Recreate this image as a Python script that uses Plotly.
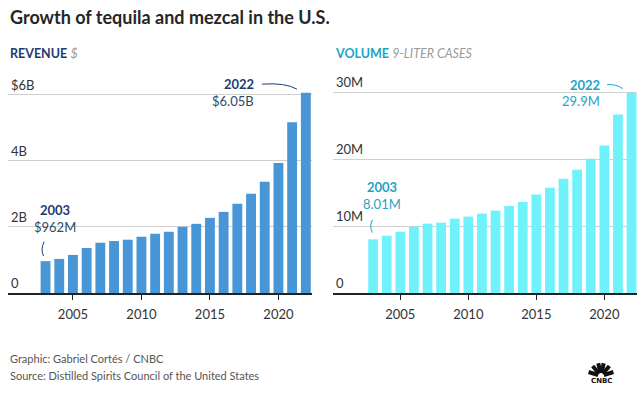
import math
import plotly.graph_objects as go
from plotly.subplots import make_subplots

years = list(range(2003, 2023))
revenue_b = [0.962, 1.03, 1.15, 1.36, 1.52, 1.57, 1.61, 1.70, 1.79, 1.85,
             2.00, 2.09, 2.27, 2.45, 2.70, 3.00, 3.36, 3.93, 5.16, 6.05]
volume_m = [8.01, 8.55, 9.15, 9.9, 10.35, 10.5, 11.1, 11.4, 11.85, 12.3,
            13.0, 13.6, 14.7, 15.7, 17.05, 18.4, 20.05, 22.0, 26.65, 29.9]
year_ticks = [2005, 2010, 2015, 2020]
rev_ticks = [0, 2, 4, 6]
rev_ticktext = ["0", "2B", "4B", "$6B"]
vol_ticks = [0, 10, 20, 30]
vol_ticktext = ["0", "10M", "20M", "30M"]

FONT = "Lato"
REV_C = "#4896d6"
VOL_C = "#70f2fc"
NAVY = "#1d3c6e"
TEAL = "#1ba4c6"

W, H = 640, 398
ML, MR, MT, MB = 8, 3, 66, 105
PW, PH = W - ML - MR, H - MT - MB


def px(x):
    return (x - ML) / PW


def py(y):
    return (H - MB - y) / PH


fig = make_subplots(rows=1, cols=2, horizontal_spacing=0.0)
fig.add_trace(go.Bar(x=years, y=revenue_b, marker_color=REV_C, marker_line_width=0,
                     width=0.72), row=1, col=1)
fig.add_trace(go.Bar(x=years, y=volume_m, marker_color=VOL_C, marker_line_width=0,
                     width=0.72), row=1, col=2)

fig.update_layout(
    width=W, height=H, margin=dict(l=ML, r=MR, t=MT, b=MB),
    paper_bgcolor="white", plot_bgcolor="white", showlegend=False,
    font=dict(family=FONT, color="#333333", size=13),
    xaxis=dict(domain=[0, px(312)], range=[2000.26, 2022.45]),
    xaxis2=dict(domain=[px(333), 1], range=[2000.05, 2022.4]),
    yaxis=dict(range=[0, PH / 33.1]),
    yaxis2=dict(range=[0, PH / 6.7]),
)
for ax in ["xaxis", "xaxis2"]:
    fig.layout[ax].update(tickvals=year_ticks, ticks="outside", ticklen=5, tickwidth=1.3,
                          tickcolor="#222", showline=True, linecolor="#222", linewidth=1.5,
                          showgrid=False, zeroline=False, ticklabelstandoff=4,
                          tickfont=dict(size=13, color="#333"))
fig.layout.yaxis.update(tickvals=rev_ticks, ticktext=rev_ticktext)
fig.layout.yaxis2.update(tickvals=vol_ticks, ticktext=vol_ticktext)
for ax in ["yaxis", "yaxis2"]:
    fig.layout[ax].update(ticklabelposition="inside top", showgrid=True, gridcolor="#d0d0d0",
                          gridwidth=1, zeroline=False, ticks="",
                          tickfont=dict(size=13, color="#333"))

ann = []
ann.append(dict(text="<b>Growth of tequila and mezcal in the U.S.</b>", xref="paper", yref="paper",
                x=px(8), y=py(17), xanchor="left", yanchor="middle", showarrow=False,
                font=dict(size=18, color="#262626")))
ann.append(dict(text="<b>REVENUE</b> <i><span style='color:#9a9a9a'>$</span></i>", xref="paper",
                yref="paper", x=px(8), y=py(53), xanchor="left", yanchor="middle", showarrow=False,
                font=dict(size=12.5, color=NAVY)))
ann.append(dict(text="<b>VOLUME</b> <i><span style='color:#9a9a9a'>9-LITER CASES</span></i>",
                xref="paper", yref="paper", x=px(333), y=py(53), xanchor="left",
                yanchor="middle", showarrow=False, font=dict(size=12.5, color=TEAL)))


def callout(xr, yr, x, y, top, bottom, dx, anchor, c1, c2, up1, up2):
    ann.append(dict(text="<b>%s</b>" % top, xref=xr, yref=yr, x=x, y=y, yshift=up1, xshift=dx,
                    xanchor=anchor, yanchor="middle", showarrow=False,
                    font=dict(size=13, color=c1)))
    ann.append(dict(text=bottom, xref=xr, yref=yr, x=x, y=y, yshift=up2, xshift=dx,
                    xanchor=anchor, yanchor="middle", showarrow=False,
                    font=dict(size=13, color=c2)))


callout("x", "y", years[0], revenue_b[0], "2003", "$962M", 9, "center", NAVY, "#2e4a68", 51, 34)
callout("x", "y", years[-1], revenue_b[-1], "2022", "$6.05B", -50, "right", NAVY, "#2e4a68", 9, -8)
callout("x2", "y2", years[0], volume_m[0], "2003", "8.01M", 9, "center", TEAL, "#2aa3c2", 52, 35)
callout("x2", "y2", years[-1], volume_m[-1], "2022", "29.9M", -30, "right", TEAL, "#2aa3c2", 8, -8)

ann.append(dict(text="Graphic: Gabriel Cortés / CNBC", xref="paper", yref="paper", x=px(8),
                y=py(358), xanchor="left", yanchor="middle", showarrow=False,
                font=dict(size=11, color="#555")))
ann.append(dict(text="Source: Distilled Spirits Council of the United States", xref="paper",
                yref="paper", x=px(8), y=py(375), xanchor="left", yanchor="middle",
                showarrow=False, font=dict(size=11, color="#555")))
ann.append(dict(text="<b>CNBC</b>", xref="paper", yref="paper", x=px(601), y=py(381),
                xanchor="center", yanchor="middle", showarrow=False,
                font=dict(size=7, color="#111", family="DejaVu Sans")))
fig.update_layout(annotations=ann)

shapes = []
# 2022 connectors
shapes.append(dict(type="path", xref="x", yref="y",
                   path="M 2018.8,6.31 Q 2020.5,6.36 2021.35,6.16",
                   line=dict(color=NAVY, width=1)))
shapes.append(dict(type="path", xref="x2", yref="y2",
                   path="M 2020.2,31.09 Q 2020.9,31.2 2021.35,30.5",
                   line=dict(color=TEAL, width=1)))
# 2003 small brackets
shapes.append(dict(type="path", xref="x", yref="y",
                   path="M 2002.9,1.55 Q 2002.62,1.33 2002.85,1.12",
                   line=dict(color=NAVY, width=1)))
shapes.append(dict(type="path", xref="x2", yref="y2",
                   path="M 2002.95,10.9 Q 2002.7,10.0 2002.95,9.0",
                   line=dict(color=TEAL, width=1)))
# CNBC peacock (feathers)
cx, cy = 601, 376
for ang in [162, 130, 102, 78, 50, 18]:
    a = math.radians(ang)
    x0, y0 = cx + 3 * math.cos(a), cy - 3 * math.sin(a)
    x1, y1 = cx + 13 * math.cos(a), cy - 13 * math.sin(a)
    shapes.append(dict(type="line", xref="paper", yref="paper", x0=px(x0), y0=py(y0),
                       x1=px(x1), y1=py(y1), line=dict(color="#111", width=4)))
fig.update_layout(shapes=shapes)

fig.write_html("out.html", config={"displayModeBar": False},
               post_script="document.body.style.margin='0';")
